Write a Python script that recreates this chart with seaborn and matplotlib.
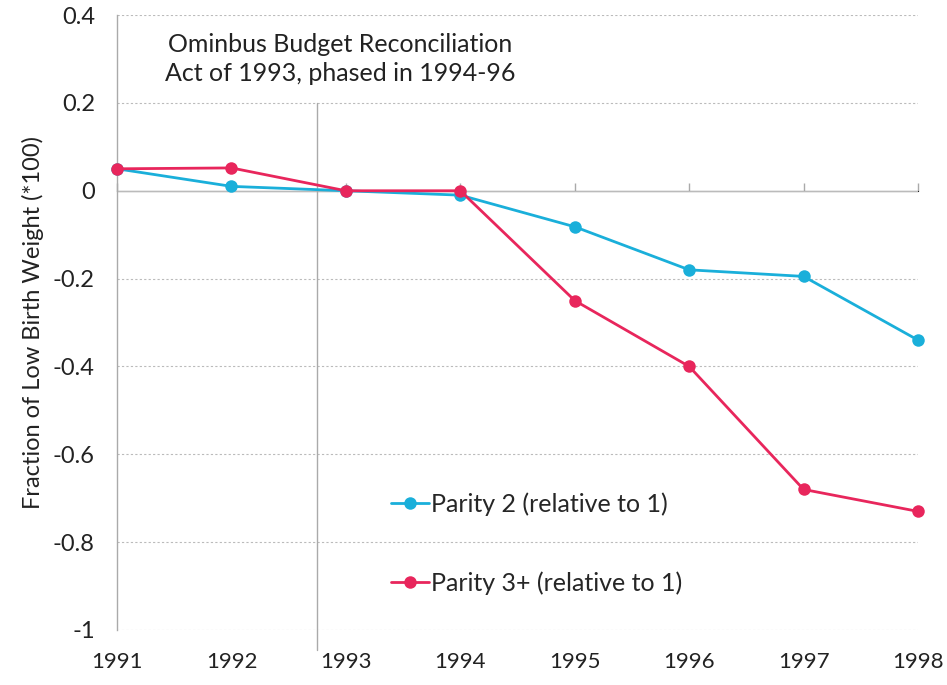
import pandas as pd
import numpy as np
import matplotlib.pyplot as plt
import seaborn as sns

years = [1991, 1992, 1993, 1994, 1995, 1996, 1997, 1998]
parity2 = [0.05, 0.01, 0.0, -0.01, -0.082, -0.18, -0.195, -0.34]
parity3 = [0.05, 0.052, 0.0, 0.0, -0.25, -0.40, -0.68, -0.73]
labels = ['Parity 2 (relative to 1)', 'Parity 3+ (relative to 1)']
colors = ['#1AAFDA', '#E8265C']
yticks = [0.4, 0.2, 0, -0.2, -0.4, -0.6, -0.8, -1]
ytick_labels = ['0.4', '0.2', '0', '-0.2', '-0.4', '-0.6', '-0.8', '-1']
policy_year = 1992.75

df = pd.DataFrame({
    'year': years * 2,
    'value': parity2 + parity3,
    'series': [labels[0]] * len(years) + [labels[1]] * len(years),
})

sns.set_style('white')
plt.rcParams['font.family'] = ['Lato', 'DejaVu Sans']

fig = plt.figure(figsize=(9.47, 6.85), dpi=100)
ax = fig.add_axes([0.1236, 0.0803, 0.9694 - 0.1236, 0.978 - 0.0803])

sns.lineplot(data=df, x='year', y='value', hue='series', palette=colors,
             marker='o', markersize=9, markeredgewidth=0, linewidth=2,
             ax=ax, clip_on=False, zorder=5)

ax.set_xlim(1991, 1998)
ax.set_ylim(-1, 0.4)

# gridlines
for v in yticks:
    if v == 0:
        ax.axhline(v, color='#BBBBBB', lw=1, zorder=1)
    else:
        ax.axhline(v, color='#BBBBBB', lw=0.8, ls=(0, (2, 2)), zorder=1)

for s in ['top', 'right', 'bottom']:
    ax.spines[s].set_visible(False)
ax.spines['left'].set_color('#AAAAAA')
ax.spines['left'].set_linewidth(1)

ax.set_yticks(yticks)
ax.set_yticklabels(ytick_labels, fontsize=17, color='#222222')
ax.tick_params(axis='y', length=0, pad=16)

ax.set_xticks(years)
ax.set_xticklabels([str(y) for y in years], fontsize=16, color='#222222')
ax.tick_params(axis='x', length=0, pad=16)

# tick marks along the zero line
sec = ax.secondary_xaxis(1 / 1.4)
sec.set_xticks(years)
sec.set_xticklabels([])
sec.tick_params(direction='out', length=6, color='#AAAAAA', width=1)
sec.spines['bottom'].set_visible(False)

ax.set_xlabel('')
ax.set_ylabel('Fraction of Low Birth Weight (*100)', fontsize=17, color='#222222', labelpad=6)

# policy line
ax.axvline(policy_year, ymin=-0.032, ymax=1.2 / 1.4, color='#AAAAAA', lw=1,
           clip_on=False, zorder=1)
ax.text(1992.95, 0.36, 'Ominbus Budget Reconciliation\nAct of 1993, phased in 1994-96',
        ha='center', va='top', fontsize=18, color='#222222', linespacing=1.35)

ax.legend(loc='upper left', bbox_to_anchor=(0.33, 0.24), frameon=False,
          fontsize=18, handlelength=1.5, handletextpad=0.1,
          labelspacing=2.2, borderaxespad=0)

fig.savefig('out.png', dpi=100)
